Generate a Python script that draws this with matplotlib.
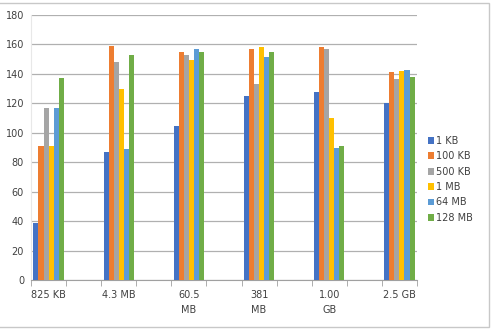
import matplotlib.pyplot as plt
from matplotlib.patches import Rectangle
import numpy as np

# file sizes (categories) and block sizes (series)
categories = ['825 KB', '4.3 MB', '60.5\nMB', '381\nMB', '1.00\nGB', '2.5 GB']
series = ['1 KB', '100 KB', '500 KB', '1 MB', '64 MB', '128 MB']
colors = ['#4472C4', '#ED7D31', '#A5A5A5', '#FFC000', '#5B9BD5', '#70AD47']

kb1 = [39, 87, 104.5, 125, 127.5, 120]
kb100 = [91, 159, 155, 157, 158.5, 141]
kb500 = [117, 148, 153, 133, 157, 136.5]
mb1 = [91, 130, 149.5, 158.5, 110, 142]
mb64 = [117, 89, 157, 151.5, 89.5, 142.5]
mb128 = [137, 153, 155, 155, 91, 138]
values = [kb1, kb100, kb500, mb1, mb64, mb128]

plt.rcParams['font.family'] = ['DejaVu Sans']

fig = plt.figure(figsize=(4.95, 3.3), dpi=100)
ax = fig.add_axes([31/495, 50/330, 386/495, 265/330])

# every category sits in its own slot with an empty slot in between
pos = np.arange(len(categories)) * 2
bw = 0.86 / len(series)
for i, (name, vals) in enumerate(zip(series, values)):
    ax.bar(pos - 0.43 + bw*(i + 0.5), vals, width=bw, color=colors[i], label=name, zorder=3)

ax.set_xlim(-0.5, pos[-1] + 0.5)
ax.set_ylim(0, 180)
ax.set_yticks(range(0, 181, 20))
ax.yaxis.grid(True, color='#b0b0b0', linewidth=0.9, zorder=0)
ax.set_xticks(pos)
ax.set_xticklabels(categories, linespacing=1.7, va='top')
ax.set_xticks(np.arange(-0.5, pos[-1] + 1), minor=True)
ax.tick_params(axis='x', which='major', length=0, pad=7, labelsize=7, colors='#404040')
ax.tick_params(axis='x', which='minor', length=4, color='#a0a0a0', direction='out')
ax.tick_params(axis='y', length=0, pad=5, labelsize=7, colors='#404040')
for s in ['top', 'right']:
    ax.spines[s].set_visible(False)
ax.spines['left'].set_color('#e8e8e8')
ax.spines['bottom'].set_color('#a0a0a0')

ax.legend(loc='center left', bbox_to_anchor=(1.005, 0.38), frameon=False, fontsize=7,
          handlelength=0.7, handleheight=0.7, handletextpad=0.2, labelspacing=0.55,
          labelcolor='#404040')

# chart border
fig.patches.append(Rectangle((-2/495, 3/330), 491/495, 324/330, transform=fig.transFigure,
                             fill=False, edgecolor='#c8c8c8', linewidth=1))

fig.savefig('out.png', dpi=100)
